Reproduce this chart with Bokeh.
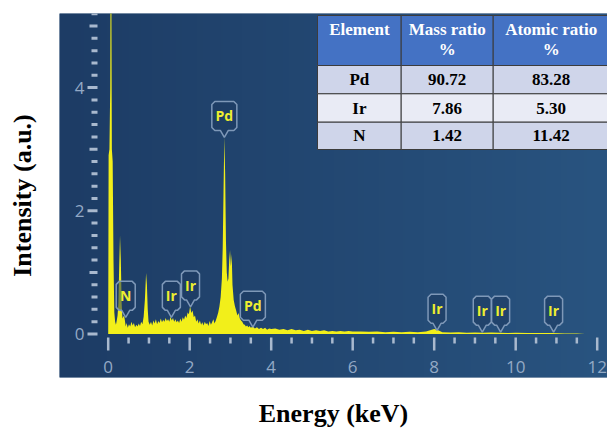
import numpy as np
from bokeh.plotting import figure
from bokeh.models import Range1d, FixedTicker
from bokeh.core.properties import value
from bokeh.embed import file_html
from bokeh.resources import INLINE

# ---------------- data ----------------
energy = [0.00, 0.01, 0.03, 0.05, 0.07, 0.08, 0.09, 0.11, 0.13, 0.15, 0.17, 0.19, 0.21, 0.23, 0.25, 0.27,
          0.29, 0.31, 0.33, 0.35, 0.37, 0.39, 0.41, 0.43, 0.45, 0.48, 0.51, 0.54, 0.57, 0.60, 0.63,
          0.66, 0.69, 0.72, 0.75, 0.78, 0.81, 0.84, 0.87, 0.90, 0.93, 0.95, 0.97, 0.99, 1.02, 1.05,
          1.08, 1.11, 1.14, 1.17, 1.20, 1.23, 1.26, 1.29, 1.32, 1.35, 1.38, 1.41, 1.44, 1.47, 1.50,
          1.53, 1.56, 1.59, 1.62, 1.65, 1.68, 1.71, 1.74, 1.77, 1.80, 1.83, 1.86, 1.89, 1.92, 1.95,
          1.98, 2.01, 2.04, 2.07, 2.10, 2.13, 2.16, 2.19, 2.22, 2.25, 2.28, 2.31, 2.34, 2.37, 2.40,
          2.43, 2.46, 2.49, 2.52, 2.55, 2.58, 2.61, 2.64, 2.67, 2.70, 2.73, 2.76, 2.79, 2.81, 2.83,
          2.85, 2.87, 2.89, 2.91, 2.93, 2.95, 2.97, 2.99, 3.01, 3.03, 3.05, 3.08, 3.11, 3.14, 3.17,
          3.20, 3.23, 3.26, 3.29, 3.32, 3.35, 3.38, 3.41, 3.44, 3.47, 3.50, 3.55, 3.60, 3.65, 3.70,
          3.75, 3.80, 3.85, 3.90, 3.95, 4.00, 4.10, 4.20, 4.30, 4.40, 4.50, 4.60, 4.70, 4.80, 4.90,
          5.00, 5.10, 5.20, 5.30, 5.40, 5.50, 5.60, 5.70, 5.80, 5.90, 6.00, 6.20, 6.40, 6.60, 6.80,
          7.00, 7.20, 7.40, 7.60, 7.80, 7.90, 8.00, 8.10, 8.20, 8.40, 8.60, 8.80, 9.00, 9.20, 9.40,
          9.60, 9.80, 10.00, 10.30, 10.60, 10.90, 11.20, 11.50, 11.70]
intensity = [0.00, 2.90, 3.00, 4.00, 9.00, 5.00, 3.00, 2.80, 1.20, 0.35, 0.20, 0.15, 0.22, 0.30, 0.50, 1.10,
             1.60, 1.20, 0.50, 0.25, 0.28, 0.30, 0.22, 0.12, 0.18, 0.10, 0.16, 0.12, 0.20, 0.14, 0.18,
             0.11, 0.15, 0.12, 0.17, 0.13, 0.20, 0.16, 0.28, 0.55, 0.99, 0.80, 0.40, 0.20, 0.15, 0.20,
             0.14, 0.22, 0.17, 0.24, 0.16, 0.21, 0.18, 0.25, 0.19, 0.23, 0.20, 0.26, 0.21, 0.24, 0.20,
             0.28, 0.22, 0.26, 0.20, 0.24, 0.19, 0.22, 0.18, 0.25, 0.20, 0.27, 0.23, 0.30, 0.26, 0.35,
             0.32, 0.45, 0.34, 0.38, 0.27, 0.30, 0.20, 0.24, 0.17, 0.22, 0.15, 0.19, 0.14, 0.20, 0.16,
             0.18, 0.13, 0.21, 0.15, 0.19, 0.24, 0.17, 0.22, 0.28, 0.35, 0.45, 0.60, 0.90, 1.40, 2.30,
             3.20, 2.60, 1.50, 1.00, 0.85, 0.90, 1.20, 1.36, 1.10, 1.30, 0.80, 0.55, 0.45, 0.38, 0.30,
             0.34, 0.25, 0.22, 0.20, 0.16, 0.15, 0.12, 0.14, 0.11, 0.13, 0.10, 0.12, 0.09, 0.11, 0.08,
             0.10, 0.08, 0.10, 0.07, 0.09, 0.08, 0.09, 0.07, 0.08, 0.06, 0.08, 0.06, 0.07, 0.05, 0.07,
             0.05, 0.06, 0.05, 0.06, 0.04, 0.05, 0.04, 0.05, 0.04, 0.05, 0.04, 0.04, 0.035, 0.04, 0.03,
             0.035, 0.03, 0.035, 0.03, 0.04, 0.06, 0.08, 0.06, 0.03, 0.025, 0.03, 0.02, 0.025, 0.02, 0.025,
             0.02, 0.015, 0.02, 0.015, 0.015, 0.015, 0.01, 0.01, 0.0]

x_major_ticks = [0, 2, 4, 6, 8, 10, 12]
x_tick_labels = ["0", "2", "4", "6", "8", "10", "12"]
y_major_ticks = [0, 2, 4]
y_tick_labels = ["0", "2", "4"]

peak_names = ["N", "Ir", "Ir", "Pd", "Pd", "Ir", "Ir", "Ir", "Ir"]
peak_energy = [0.43, 1.55, 2.02, 2.85, 3.55, 8.07, 9.18, 9.63, 10.93]
peak_height = [0.27, 0.27, 0.44, 3.19, 0.11, 0.06, 0.03, 0.03, 0.03]

table_header = ["Element", "Mass ratio", "Atomic ratio"]
table_elements = ["Pd", "Ir", "N"]
table_mass = ["90.72", "7.86", "1.42"]
table_atomic = ["83.28", "5.30", "11.42"]

# ---------------- layout geometry (canvas pixels) ----------------
W, H = 607, 435
FRAME_L, FRAME_R, FRAME_T, FRAME_B = 59, 607, 13, 377
X0PX, XSCALE = 107.7, 40.75
Y0PX, YSCALE = 333.5, 61.6


def px2x(px):
    return (px - X0PX) / XSCALE


def px2y(py):
    return (Y0PX - py) / YSCALE


def x2px(x):
    return X0PX + x * XSCALE


def y2px(y):
    return Y0PX - y * YSCALE


xs, xe = px2x(FRAME_L), px2x(FRAME_R)
ys, ye = px2y(FRAME_B), px2y(FRAME_T)

p = figure(width=W, height=H, x_range=Range1d(xs, xe), y_range=Range1d(ys, ye),
           output_backend="svg", toolbar_location=None,
           min_border_left=FRAME_L, min_border_right=W - FRAME_R,
           min_border_top=FRAME_T, min_border_bottom=H - FRAME_B)
p.grid.visible = False
p.outline_line_color = None
p.border_fill_color = "white"
p.background_fill_color = "#244871"

for ax in (p.xaxis, p.yaxis):
    ax.ticker = FixedTicker(ticks=[])
    ax.axis_line_color = None
    ax.major_tick_line_color = None
    ax.minor_tick_line_color = None
    ax.major_label_text_font_size = "0px"
    ax.axis_label_text_font = "Liberation Serif"
    ax.axis_label_text_font_style = "bold"
    ax.axis_label_text_font_size = "26px"
    ax.axis_label_text_color = "black"
p.xaxis.axis_label = "Energy (keV)"
p.yaxis.axis_label = "Intensity (a.u.)"
p.xaxis.axis_label_standoff = 21
p.yaxis.axis_label_standoff = 23

# background gradient
ncol = 256
c0 = np.array([0x1d, 0x3c, 0x65], dtype=float)
c1 = np.array([0x29, 0x54, 0x80], dtype=float)
t = np.linspace(0, 1, ncol)
cols = (c0[None, :] * (1 - t[:, None]) + c1[None, :] * t[:, None]).astype(np.uint32)
img = np.empty((2, ncol), dtype=np.uint32)
view = img.view(dtype=np.uint8).reshape((2, ncol, 4))
view[:, :, 0] = cols[:, 0]
view[:, :, 1] = cols[:, 1]
view[:, :, 2] = cols[:, 2]
view[:, :, 3] = 255
p.image_rgba(image=[img], x=xs, y=ys, dw=xe - xs, dh=ye - ys)

# axis ticks (drawn inside the panel)
tick_col = "#a9b9ce"
x_minor = [v for v in np.arange(0.5, 12.0, 0.5) if v % 2 != 0]
p.segment(x0=x_major_ticks, x1=x_major_ticks, y0=[px2y(337)] * len(x_major_ticks),
          y1=[px2y(350)] * len(x_major_ticks), line_color=tick_col, line_width=2.5)
p.segment(x0=x_minor, x1=x_minor, y0=[px2y(337)] * len(x_minor),
          y1=[px2y(343)] * len(x_minor), line_color=tick_col, line_width=2.5)
y_all = np.round(np.arange(0, 5.21, 0.2), 2)
y_minor = [v for v in y_all if abs(v - round(v)) > 1e-6]
y_odd = [v for v in y_all if abs(v - round(v)) < 1e-6 and int(round(v)) % 2 == 1]
p.segment(x0=[px2x(87)] * 3, x1=[px2x(97)] * 3, y0=y_major_ticks, y1=y_major_ticks,
          line_color=tick_col, line_width=3)
p.segment(x0=[px2x(89)] * len(y_odd), x1=[px2x(97)] * len(y_odd), y0=y_odd, y1=y_odd,
          line_color=tick_col, line_width=3)
p.segment(x0=[px2x(91)] * len(y_minor), x1=[px2x(97)] * len(y_minor), y0=y_minor, y1=y_minor,
          line_color=tick_col, line_width=3)

lab_col = "#93a9c5"
p.text(x=x_major_ticks, y=[px2y(366)] * len(x_major_ticks), text=x_tick_labels,
       text_align="center", text_baseline="middle", text_font=value("Open Sans"),
       text_font_size="17px", text_color=lab_col)
p.text(x=[px2x(84)] * 3, y=y_major_ticks, text=y_tick_labels,
       text_align="right", text_baseline="middle", text_font=value("Open Sans"),
       text_font_size="17px", text_color=lab_col)

# spectrum
p.varea(x=energy, y1=[0] * len(energy), y2=intensity, fill_color="#f2ef1a")

# peak callouts
widths = {"Pd": 25, "Ir": 18, "N": 19}
pxs, pys, tx_l, ty_l = [], [], [], []
for name, e, h in zip(peak_names, peak_energy, peak_height):
    tx, ty = x2px(e), y2px(h)
    bb = ty - 7
    top = bb - 29
    w = widths[name]
    left, right = tx - w / 2, tx + w / 2
    ptsx = [tx, tx - 4, left + 3, left, left, left + 3, right - 3, right, right, right - 3, tx + 4]
    ptsy = [ty, bb, bb, bb - 3, top + 3, top, top, top + 3, bb - 3, bb, bb]
    pxs.append([px2x(v) for v in ptsx])
    pys.append([px2y(v) for v in ptsy])
    tx_l.append(e)
    ty_l.append(px2y((top + bb) / 2))
p.patches(xs=pxs, ys=pys, fill_color="#1d3a60", fill_alpha=0.55,
          line_color="#7e98b8", line_width=1.5)
p.text(x=tx_l, y=ty_l, text=peak_names, text_align="center", text_baseline="middle",
       text_font=value("Open Sans"), text_font_style="bold", text_font_size="14px",
       text_color="#eeee30")

# table
col_edges = [317, 400.7, 492.7, 608.7]
row_edges = [15, 65, 93.3, 121.7, 149]
row_fill = ["#4472c4", "#cfd5ea", "#e9ebf5", "#cfd5ea"]
ql, qr, qt, qb, qf = [], [], [], [], []
for r in range(4):
    for c in range(3):
        ql.append(px2x(col_edges[c]))
        qr.append(px2x(col_edges[c + 1]))
        qt.append(px2y(row_edges[r]))
        qb.append(px2y(row_edges[r + 1]))
        qf.append(row_fill[r])
p.quad(left=ql, right=qr, top=qt, bottom=qb, fill_color=qf, line_color="#3c3c3c", line_width=1)

col_c = [(col_edges[i] + col_edges[i + 1]) / 2 for i in range(3)]
hx = [px2x(col_c[0]), px2x(col_c[1]), px2x(col_c[2]), px2x(col_c[1]), px2x(col_c[2])]
hy = [px2y(29)] * 3 + [px2y(49)] * 2
htext = table_header + ["%", "%"]
p.text(x=hx, y=hy, text=htext, text_align="center", text_baseline="middle",
       text_font=value("Liberation Serif"), text_font_style="bold", text_font_size="17px",
       text_color="white")
bx, by, bt = [], [], []
for r, (el, m, a) in enumerate(zip(table_elements, table_mass, table_atomic)):
    yc = px2y((row_edges[r + 1] + row_edges[r + 2]) / 2)
    for c, s in enumerate((el, m, a)):
        bx.append(px2x(col_c[c]))
        by.append(yc)
        bt.append(s)
p.text(x=bx, y=by, text=bt, text_align="center", text_baseline="middle",
       text_font=value("Liberation Serif"), text_font_style="bold", text_font_size="17px",
       text_color="black")

open("out.html", "w").write(file_html(p, INLINE))
